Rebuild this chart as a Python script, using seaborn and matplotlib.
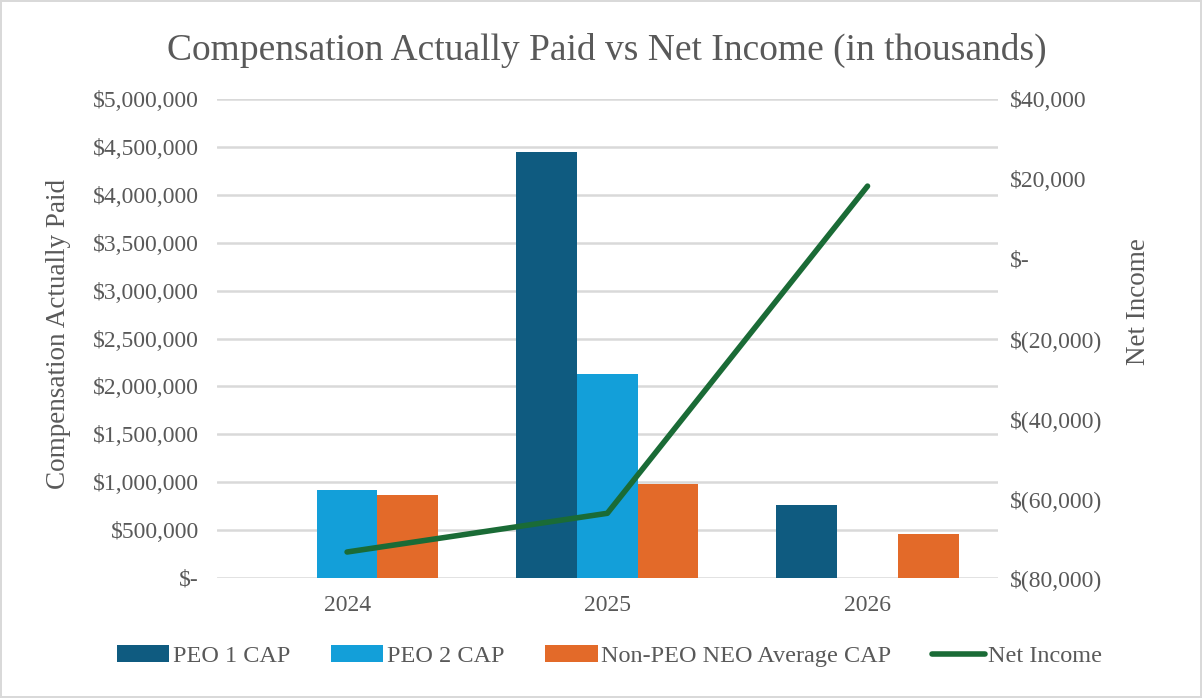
import matplotlib
matplotlib.use("Agg")
import matplotlib.pyplot as plt
import seaborn as sns
import numpy as np
import pandas as pd
from matplotlib.ticker import FuncFormatter, MultipleLocator
from matplotlib.lines import Line2D

years = ["2024", "2025", "2026"]
series_names = ["PEO 1 CAP", "PEO 2 CAP", "Non-PEO NEO Average CAP"]
peo1_cap = [0, 4450000, 760000]
peo2_cap = [915000, 2125000, 0]
non_peo_cap = [865000, 985000, 455000]
net_income = [-73500, -63800, 18200]

colors = ["#0F5B80", "#139FD9", "#E36A29"]
line_color = "#1A6B36"
text_color = "#595959"
grid_color = "#D9D9D9"

df = pd.DataFrame({
    "Year": years * 3,
    "Series": [s for s in series_names for _ in years],
    "Value": peo1_cap + peo2_cap + non_peo_cap,
})

sns.set_theme(style="white")
plt.rcParams["font.family"] = ["Liberation Serif", "DejaVu Serif"]

fig = plt.figure(figsize=(12.02, 6.98), dpi=100)
ax = fig.add_axes([0.1805, 0.172, 0.6495, 0.686])

sns.barplot(data=df, x="Year", y="Value", hue="Series", hue_order=series_names,
            palette=colors, width=0.7, saturation=1, ax=ax, legend=True, zorder=2,
            linewidth=0, edgecolor="none")
handles, labels = ax.get_legend_handles_labels()
if ax.get_legend() is not None:
    ax.get_legend().remove()

ax.set_ylim(0, 5000000)
ax.set_xlim(-0.5, 2.5)
ax.yaxis.set_major_locator(MultipleLocator(500000))
ax.yaxis.grid(True, color=grid_color, linewidth=1.8, zorder=0)
ax.set_axisbelow(True)
for s in ax.spines.values():
    s.set_visible(False)

def left_fmt(v, pos):
    if abs(v) < 1:
        return "$-"
    return "${:,.0f}".format(v)

def right_fmt(v, pos):
    if abs(v) < 1:
        return "$-"
    if v < 0:
        return "$({:,.0f})".format(-v)
    return "${:,.0f}".format(v)

ax.yaxis.set_major_formatter(FuncFormatter(left_fmt))
ax.tick_params(axis="y", labelsize=17, colors=text_color, length=0, pad=13)
ax.tick_params(axis="x", labelsize=17, colors=text_color, length=0, pad=12)
ax.set_xlabel("")
ax.set_ylabel("Compensation Actually Paid", fontsize=19.5, color=text_color)
ax.yaxis.set_label_coords(-0.187, 0.509)

ax2 = ax.twinx()
x_pos = np.arange(len(years))
sns.lineplot(x=x_pos, y=net_income, ax=ax2, color=line_color, linewidth=4, zorder=3)
ax2.set_ylim(-80000, 40000)
ax2.set_xlim(-0.5, 2.5)
ax2.yaxis.set_major_locator(MultipleLocator(20000))
ax2.yaxis.set_major_formatter(FuncFormatter(right_fmt))
ax2.tick_params(axis="y", labelsize=17, colors=text_color, length=0, pad=9)
ax2.set_ylabel("Net Income", fontsize=19.5, color=text_color)
ax2.yaxis.set_label_coords(1.165, 0.578)
ax2.grid(False)
for s in ax2.spines.values():
    s.set_visible(False)

ax.set_title("Compensation Actually Paid vs Net Income (in thousands)",
             fontsize=27, color=text_color, pad=28)

line_handle = Line2D([0], [0], color=line_color, linewidth=4, solid_capstyle="round")
fig.legend(handles + [line_handle], labels + ["Net Income"], loc="center",
           bbox_to_anchor=(0.507, 0.06), ncol=4, frameon=False, fontsize=17.5,
           handlelength=2.15, handleheight=0.65, handletextpad=0.13, columnspacing=1.7,
           labelcolor=text_color)

fig.patch.set_edgecolor(grid_color)
fig.patch.set_linewidth(1.5)
fig.savefig("out.png", dpi=100, edgecolor=fig.get_edgecolor())
